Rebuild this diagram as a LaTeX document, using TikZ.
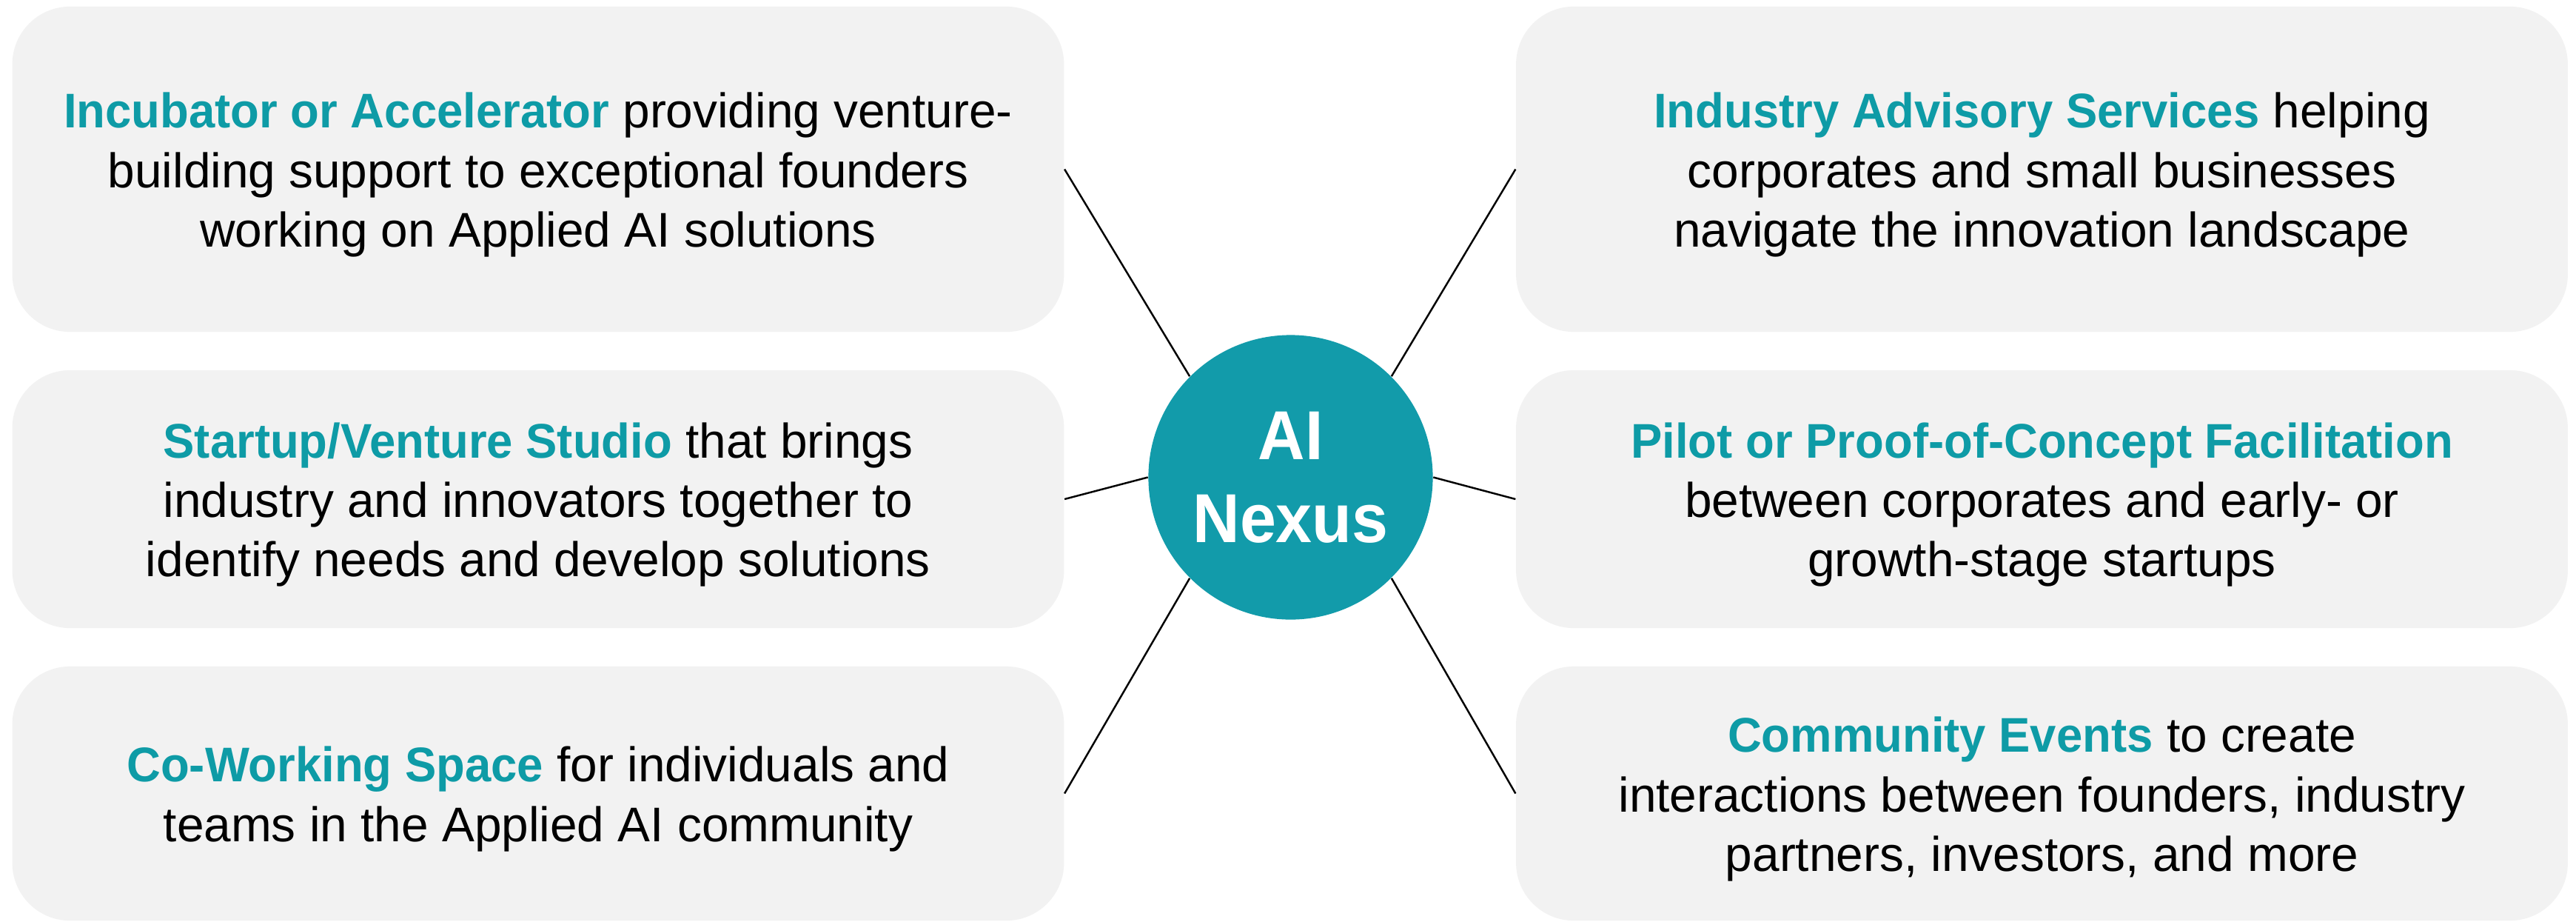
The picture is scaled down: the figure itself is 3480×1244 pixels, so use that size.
\documentclass[tikz,border=0pt]{standalone}
\usepackage{fontspec}
\setmainfont{Liberation Sans}[BoldFeatures={FakeStretch=0.965}]
\newfontfamily\hubfont{Liberation Sans}[BoldFeatures={FakeStretch=0.94}]
\definecolor{tealtext}{HTML}{0E9BA6}
\definecolor{tealcircle}{HTML}{129BAA}
\definecolor{boxgray}{HTML}{F2F2F2}
\tikzset{
  infobox/.style={fill=boxgray, rounded corners=0.78cm, minimum width=14.2cm,
    inner sep=0pt},
  boxtext/.style={inner sep=0pt, align=center, text=black,
    font=\fontsize{18.7}{22.8}\selectfont},
  hub/.style={circle, fill=tealcircle, minimum size=3.84cm, inner sep=0pt,
    align=center, text=white, font=\hubfont\bfseries\fontsize{26.6}{31.9}\selectfont},
  link/.style={draw=black, line width=0.7pt},
}
\newcommand{\hl}[1]{\textbf{\color{tealtext}#1}}
\begin{document}
\begin{tikzpicture}[x=0.01cm, y=-0.01cm]
  \path[use as bounding box, fill=white] (0,0) rectangle (3480,1244);
  \node[infobox, minimum height=4.39cm] (tl) at (727,228.5) {};
  \node[infobox, minimum height=3.48cm] (ml) at (727,674) {};
  \node[infobox, minimum height=3.43cm] (bl) at (727,1071.5) {};
  \node[infobox, minimum height=4.39cm] (tr) at (2758.5,228.5) {};
  \node[infobox, minimum height=3.48cm] (mr) at (2758.5,674) {};
  \node[infobox, minimum height=3.43cm] (br) at (2758.5,1071.5) {};
  \node[boxtext] (tltext) at ([yshift=-0.075cm]tl.center)
    {\hl{Incubator or Accelerator} providing venture-\\building support to exceptional founders\\working on Applied AI solutions};
  \node[boxtext] (mltext) at ([yshift=-0.075cm]ml.center)
    {\hl{Startup/Venture Studio} that brings\\industry and innovators together to\\identify needs and develop solutions};
  \node[boxtext] (bltext) at ([yshift=-0.075cm]bl.center)
    {\hl{Co-Working Space} for individuals and\\teams in the Applied AI community};
  \node[boxtext] (trtext) at ([yshift=-0.075cm]tr.center)
    {\hl{Industry Advisory Services} helping\\corporates and small businesses\\navigate the innovation landscape};
  \node[boxtext] (mrtext) at ([yshift=-0.075cm]mr.center)
    {\hl{Pilot or Proof-of-Concept Facilitation}\\between corporates and early- or\\growth-stage startups};
  \node[boxtext] (brtext) at ([yshift=-0.075cm]br.center)
    {\hl{Community Events} to create\\interactions between founders, industry\\partners, investors, and more};
  \node[hub] (hubnode) at (1743.5,644.5) {AI\\Nexus};
  \draw[link] (tl.east) -- (hubnode.135);
  \draw[link] (ml.east) -- (hubnode.west);
  \draw[link] (bl.east) -- (hubnode.225);
  \draw[link] (tr.west) -- (hubnode.45);
  \draw[link] (mr.west) -- (hubnode.east);
  \draw[link] (br.west) -- (hubnode.315);
\end{tikzpicture}
\end{document}
